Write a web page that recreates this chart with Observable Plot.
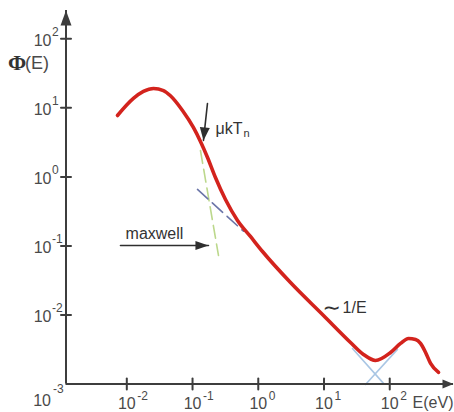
<!DOCTYPE html>
<html><head><meta charset="utf-8">
<script src="https://cdn.jsdelivr.net/npm/d3@7"></script>
<script src="https://cdn.jsdelivr.net/npm/@observablehq/plot@0.6"></script>
<style>body{margin:0;background:#fff;}</style>
</head><body><div id="chart"></div>
<script>
// neutron flux spectrum Φ(E)
const energy = [0.00721, 0.0126, 0.0179, 0.0255, 0.0361, 0.0457, 0.0703, 0.103, 0.132, 0.169, 0.223, 0.317, 0.483, 0.760, 1.16, 3.09, 9.82, 25.3, 39.8, 60.7, 103, 146, 193, 247, 294, 351, 418, 553];
const flux   = [7.75, 13.7, 17.3, 19.1, 17.8, 15.1, 9.16, 5.20, 3.26, 1.91, 0.980, 0.470, 0.234, 0.137, 0.0830, 0.0295, 0.00984, 0.00400, 0.00268, 0.00219, 0.00286, 0.00387, 0.00457, 0.00442, 0.00387, 0.00286, 0.00199, 0.00147];

// guide lines
const maxwellE = [0.132, 0.248], maxwellPhi = [2.41, 0.0728];
const invEupE = [0.119, 0.596], invEupPhi = [0.658, 0.163];
const invElowE = [27.1, 80.4], invElowPhi = [0.00327, 0.00102];
const riseE = [131, 42.8], risePhi = [0.00317, 0.000986];

// ticks
const xTickValues = [0.01, 0.1, 1, 10, 100];
const xTickExps = ["-2", "-1", "0", "1", "2"];
const yTickValues = [0.01, 0.1, 1, 10, 100];
const yTickExps = ["-2", "-1", "0", "1", "2"];
const xMin = Math.pow(10, -2.925), xMax = Math.pow(10, 2.97);
const yMin = 1e-3, yMax = Math.pow(10, 2.41);

// annotations
const kTArrowE = [0.1687, 0.1466], kTArrowPhi = [11.57, 3.37];
const mxArrowE = [0.00801, 0.1747], mxArrowPhi = [0.1015, 0.1015];
const kTLabel = {E: 0.223, Phi: 4.25};
const mxLabel = {E: 0.00957, Phi: 0.128};
const invLabel = {E: 9.86, Phi: 0.0125};

const curve = energy.map((e, i) => ({E: e, Phi: flux[i]}));
const seg = (xs, ys) => xs.map((x, i) => ({E: x, Phi: ys[i]}));

const tickShape = {draw(ctx, l) { ctx.moveTo(0, 0); ctx.lineTo(0, -l); }};
const head = (w) => ({draw(ctx, l) { ctx.moveTo(0, -l); ctx.lineTo(w, 0); ctx.lineTo(-w, 0); ctx.closePath(); }});

const axisColor = "#3d3d3d", labelColor = "#4a4a4a", textColor = "#333";
const red = "#d3231d";

const chart = Plot.plot({
  width: 454, height: 412,
  marginLeft: 65.5, marginRight: 1, marginTop: 10, marginBottom: 28.5,
  x: {type: "log", domain: [xMin, xMax], axis: null},
  y: {type: "log", domain: [yMin, yMax], axis: null},
  style: {fontFamily: "'Liberation Sans', Arial, sans-serif", background: "#fff", overflow: "visible"},
  marks: [
    // guides
    Plot.line(seg(maxwellE, maxwellPhi), {x: "E", y: "Phi", stroke: "#bcd88c", strokeWidth: 1.6, strokeDasharray: "13,6"}),
    Plot.line(seg(invEupE, invEupPhi), {x: "E", y: "Phi", stroke: "#6b75a8", strokeWidth: 1.6, strokeDasharray: "14,6"}),
    Plot.line(seg(invElowE, invElowPhi), {x: "E", y: "Phi", stroke: "#a9c6e4", strokeWidth: 1.6}),
    Plot.line(seg(riseE, risePhi), {x: "E", y: "Phi", stroke: "#a9c6e4", strokeWidth: 1.6}),
    // axes
    Plot.ruleX([xMin], {stroke: axisColor, strokeWidth: 2}),
    Plot.ruleY([yMin], {stroke: axisColor, strokeWidth: 2}),
    Plot.vector([0], {x: () => xMin, y: () => yMax, length: 15, rotate: 0, anchor: "end", shape: head(5.5), fill: axisColor, stroke: "none"}),
    Plot.vector([0], {x: () => xMax, y: () => yMin, length: 11, rotate: 90, anchor: "end", shape: head(4.5), fill: axisColor, stroke: "none"}),
    Plot.vector(xTickValues, {x: d => d, y: () => yMin, length: 11, rotate: 0, anchor: "middle", shape: tickShape, stroke: axisColor, strokeWidth: 2}),
    Plot.vector(yTickValues, {x: () => xMin, y: d => d, length: 10, rotate: 90, anchor: "middle", shape: tickShape, stroke: axisColor, strokeWidth: 2}),
    // x tick labels
    Plot.text(xTickValues, {x: d => d, y: () => yMin, text: () => "10", dy: 20, fontSize: 16, fill: labelColor, textAnchor: "middle", lineAnchor: "middle"}),
    Plot.text(xTickValues, {x: d => d, y: () => yMin, text: (d, i) => xTickExps[i], dx: 10.5, dy: 12.5, fontSize: 12, fill: labelColor, textAnchor: "start", lineAnchor: "middle"}),
    // y tick labels
    Plot.text(yTickValues, {x: () => xMin, y: d => d, text: () => "10", dx: -14.5, dy: 2, fontSize: 16, fill: labelColor, textAnchor: "end", lineAnchor: "middle"}),
    Plot.text(yTickValues, {x: () => xMin, y: d => d, text: (d, i) => yTickExps[i], dx: -14, dy: -7, fontSize: 12, fill: labelColor, textAnchor: "start", lineAnchor: "middle"}),
    // origin label 10^-3
    Plot.text([yMin], {x: () => xMin, y: d => d, text: () => "10", dx: -15, dy: 16.5, fontSize: 16, fill: labelColor, textAnchor: "end", lineAnchor: "middle"}),
    Plot.text([yMin], {x: () => xMin, y: d => d, text: () => "-3", dx: -13, dy: 5, fontSize: 12, fill: labelColor, textAnchor: "start", lineAnchor: "middle"}),
    // axis titles
    Plot.text([yMax], {x: () => xMin, y: () => Math.pow(10, 1.643), text: () => "Φ", dx: -49, fontSize: 22, fontWeight: "bold", fontFamily: "'Liberation Serif', 'Times New Roman', serif", fill: textColor, textAnchor: "middle", lineAnchor: "middle"}),
    Plot.text([yMax], {x: () => xMin, y: () => Math.pow(10, 1.643), text: () => "(E)", dx: -41, fontSize: 18, fill: labelColor, textAnchor: "start", lineAnchor: "middle"}),
    Plot.text([xMax], {x: d => d, y: () => yMin, text: () => "E(eV)", dy: 19, fontSize: 16, fill: labelColor, textAnchor: "end", lineAnchor: "middle"}),
    // flux curve
    Plot.line(curve, {x: "E", y: "Phi", curve: "monotone-x", stroke: red, strokeWidth: 3.6, strokeLinecap: "round", strokeLinejoin: "round"}),
    // annotations
    Plot.line(seg(kTArrowE, kTArrowPhi), {x: "E", y: "Phi", stroke: "#2e2e2e", strokeWidth: 1.6}),
    Plot.vector([0], {x: () => kTArrowE[1], y: () => kTArrowPhi[1], length: 13, rotate: 186, anchor: "end", shape: head(5), fill: "#2e2e2e", stroke: "none"}),
    Plot.line(seg(mxArrowE, mxArrowPhi), {x: "E", y: "Phi", stroke: "#2e2e2e", strokeWidth: 1.6}),
    Plot.vector([0], {x: () => mxArrowE[1], y: () => mxArrowPhi[1], length: 13, rotate: 90, anchor: "end", shape: head(4.5), fill: "#2e2e2e", stroke: "none"}),
    Plot.text([kTLabel], {x: "E", y: "Phi", text: () => "μkT", fontSize: 16, fill: textColor, textAnchor: "start", lineAnchor: "bottom"}),
    Plot.text([kTLabel], {x: "E", y: "Phi", text: () => "n", dx: 28, dy: 3, fontSize: 11, fill: textColor, textAnchor: "start", lineAnchor: "bottom"}),
    Plot.text([mxLabel], {x: "E", y: "Phi", text: () => "maxwell", fontSize: 16, fill: textColor, textAnchor: "start", lineAnchor: "bottom"}),
    Plot.text([invLabel], {x: "E", y: "Phi", text: () => "∼", fontSize: 22, fontFamily: "'DejaVu Sans', sans-serif", fill: textColor, textAnchor: "start", lineAnchor: "middle", dx: -1}),
    Plot.text([invLabel], {x: "E", y: "Phi", text: () => "1/E", dx: 19, fontSize: 16, fill: textColor, textAnchor: "start", lineAnchor: "middle"})
  ]
});
document.getElementById("chart").appendChild(chart);
</script>
</body></html>
